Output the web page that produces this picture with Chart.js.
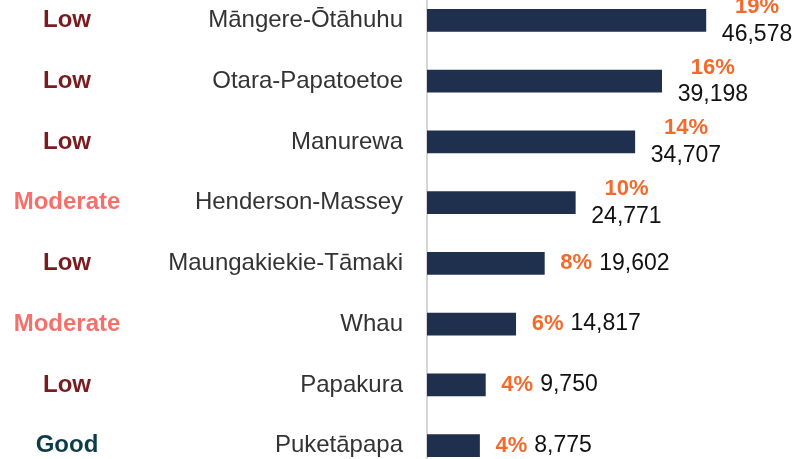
<!DOCTYPE html>
<html>
<head>
<meta charset="utf-8">
<script src="https://cdn.jsdelivr.net/npm/chart.js@4"></script>
<style>
  html, body { margin: 0; padding: 0; background: #fff; overflow: hidden; }
  #chart { position: absolute; left: 0; top: -10px; }
</style>
</head>
<body>
<canvas id="chart" width="797" height="486"></canvas>
<script>
const boards = ['Māngere-Ōtāhuhu', 'Otara-Papatoetoe', 'Manurewa', 'Henderson-Massey',
  'Maungakiekie-Tāmaki', 'Whau', 'Papakura', 'Puketāpapa'];
const counts = [46578, 39198, 34707, 24771, 19602, 14817, 9750, 8775];
const shares = ['19%', '16%', '14%', '10%', '8%', '6%', '4%', '4%'];
const ratings = ['Low', 'Low', 'Low', 'Moderate', 'Low', 'Moderate', 'Low', 'Good'];

const ratingColors = { Low: '#7a1b1f', Moderate: '#f5706a', Good: '#0c3b4a' };
const FONT = '"Liberation Sans", Arial, sans-serif';

const labelPlugin = {
  id: 'barLabels',
  afterDatasetsDraw(chart) {
    const ctx = chart.ctx;
    const meta = chart.getDatasetMeta(0);
    const yScale = chart.scales.y;
    ctx.save();
    ctx.textBaseline = 'middle';
    meta.data.forEach((bar, i) => {
      const pctFont = 'bold 22px ' + FONT;
      const numFont = '23px ' + FONT;
      const num = counts[i].toLocaleString('en-US');
      const x0 = bar.x + 16;
      if (i < 4) {
        ctx.font = pctFont;
        const w1 = ctx.measureText(shares[i]).width;
        ctx.font = numFont;
        const w2 = ctx.measureText(num).width;
        const cx = x0 + Math.max(w1, w2) / 2;
        ctx.textAlign = 'center';
        ctx.font = pctFont;
        ctx.fillStyle = '#f26a2c';
        ctx.fillText(shares[i], cx, bar.y - 13.5);
        ctx.font = numFont;
        ctx.fillStyle = '#111';
        ctx.fillText(num, cx, bar.y + 14);
      } else {
        ctx.textAlign = 'left';
        ctx.font = pctFont;
        ctx.fillStyle = '#f26a2c';
        ctx.fillText(shares[i], x0, bar.y);
        const w1 = ctx.measureText(shares[i]).width;
        ctx.font = numFont;
        ctx.fillStyle = '#111';
        ctx.fillText(num, x0 + w1 + 7, bar.y);
      }
      // rating column on the far left
      ctx.textAlign = 'center';
      ctx.font = 'bold 24px ' + FONT;
      ctx.fillStyle = ratingColors[ratings[i]];
      ctx.fillText(ratings[i], 67, yScale.getPixelForValue(i));
    });
    ctx.restore();
  }
};

new Chart(document.getElementById('chart'), {
  type: 'bar',
  data: {
    labels: boards,
    datasets: [{
      data: counts,
      backgroundColor: '#1e304e',
      barThickness: 22
    }]
  },
  options: {
    indexAxis: 'y',
    responsive: false,
    animation: false,
    layout: { padding: 0 },
    plugins: { legend: { display: false }, tooltip: { enabled: false } },
    scales: {
      x: { display: false, min: 0, max: 61800 },
      y: {
        afterFit(scale) {
          scale.width = 427;
          scale.paddingTop = 0;
          scale.paddingBottom = 0;
        },
        grid: { display: false, drawTicks: false },
        border: { display: true, color: '#d6d6d6', width: 2 },
        ticks: {
          autoSkip: false,
          padding: 24,
          color: '#333',
          font: { family: FONT, size: 24 }
        }
      }
    }
  },
  plugins: [labelPlugin]
});
</script>
</body>
</html>
